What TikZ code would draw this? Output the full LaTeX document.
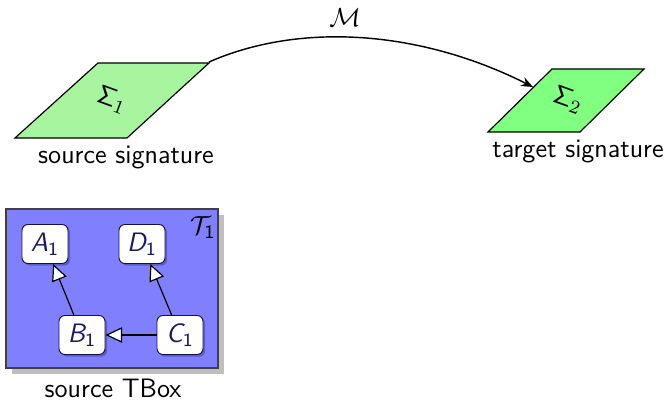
\documentclass[tikz,border=0pt]{standalone}
\usetikzlibrary{arrows.meta,shadows}
\definecolor{sigone}{RGB}{168,245,160}
\definecolor{sigtwo}{RGB}{128,255,128}
\definecolor{tboxblue}{RGB}{128,128,255}
\definecolor{navy}{RGB}{25,25,100}
\newcommand{\itsub}[2]{{\itshape #1}\textsubscript{#2}}
\begin{document}
\begin{tikzpicture}[x=0.42pt,y=-0.42pt,
  font=\fontsize{11.2}{13.4}\selectfont\sffamily,
  sig/.style={draw=black, line width=0.5pt},
  lbl/.style={inner sep=0pt},
  cnode/.style={draw=navy!70!black, fill=white, rounded corners=2.5pt, line width=0.4pt,
    minimum width=46*0.42pt, minimum height=39*0.42pt, inner sep=0pt, text=navy,
    drop shadow={shadow xshift=0.9pt, shadow yshift=-0.9pt, fill=navy, opacity=0.35}},
  isa/.style={-{Triangle[open, fill=white, length=7pt, width=6.5pt, line width=0.5pt]}, line width=0.5pt, draw=black}
]
\useasboundingbox (0,0) rectangle (668,400);
% signatures
\draw[sig, fill=sigone] (98,63) -- (209,63) -- (127,138) -- (15,138) -- cycle;
\coordinate (s1tr) at (209,62);
\node[lbl, rotate=-20] (sig1) at (112,100) {$\mathsf{\Sigma}_1$};
\draw[sig, fill=sigtwo] (552,69) -- (644,69) -- (580,132) -- (488,132) -- cycle;
\coordinate (s2l) at (533,87);
\node[lbl, rotate=-20] (sig2) at (568,100) {$\mathsf{\Sigma}_2$};
\node[lbl] (l1) at (126,158) {source signature};
\node[lbl] (l2) at (578,152) {target signature};
% mapping
\draw[-{Stealth[length=5pt,width=4pt]}, line width=0.6pt] (s1tr) .. controls (300,22) and (420,30) .. (s2l);
\node[lbl] (m) at (345,18) {$\mathcal{M}$};
% TBox
\fill[black!25] (12,215) rectangle (224,374);
\draw[fill=tboxblue, draw=black!75, line width=0.5pt] (6,209) rectangle (218,368);
\node[lbl] (t1) at (203,228) {$\mathcal{T}_{\mathsf{1}}$};
\node[cnode] (A) at (45,244) {\itsub{A}{1}};
\node[cnode] (D) at (142,244) {\itsub{D}{1}};
\node[cnode] (B) at (82,335) {\itsub{B}{1}};
\node[cnode] (C) at (180,335) {\itsub{C}{1}};
\draw[isa] (B) -- (A);
\draw[isa] (C) -- (D);
\draw[isa] (C) -- (B);
\node[lbl] (l3) at (113,388) {source TBox};
\end{tikzpicture}
\end{document}
